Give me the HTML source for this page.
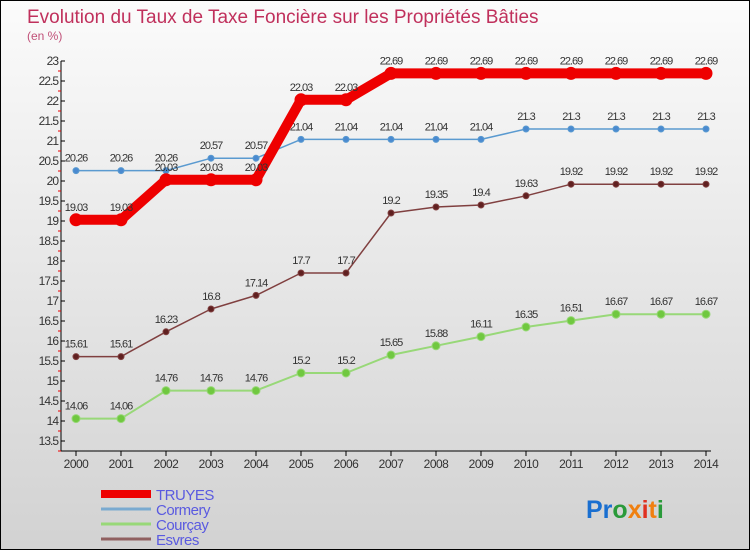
<!DOCTYPE html>
<html><head><meta charset="utf-8"><style>
body{margin:0}
#wrap{width:748px;height:548px;border:1px solid #000;background:linear-gradient(#fbfbfb,#d2d2d2);position:relative;font-family:"Liberation Sans",sans-serif;overflow:hidden}
svg{position:absolute;left:0;top:0}
</style></head><body>
<div id="wrap">
<svg id="c" width="750" height="550">
<text x="26" y="22" font-size="19" fill="#c0305c">Evolution du Taux de Taxe Foncière sur les Propriétés Bâties</text>
<text x="26" y="39" font-size="12" fill="#c05078">(en %)</text>
<g id="axes"></g><g id="series"></g><g id="legend"></g>
<text x="585" y="517" font-size="25" font-weight="bold"><tspan fill="#1a6fd0">Pr</tspan><tspan fill="#2a9a3a">o</tspan><tspan fill="#f08010">x</tspan><tspan fill="#e03020">i</tspan><tspan fill="#f08010">t</tspan><tspan fill="#2a9a3a">i</tspan></text>
</svg></div>
<script>
const years=[2000,2001,2002,2003,2004,2005,2006,2007,2008,2009,2010,2011,2012,2013,2014];
const yTicks=[13.5,14,14.5,15,15.5,16,16.5,17,17.5,18,18.5,19,19.5,20,20.5,21,21.5,22,22.5,23];
const truyes=[19.03,19.03,20.03,20.03,20.03,22.03,22.03,22.69,22.69,22.69,22.69,22.69,22.69,22.69,22.69];
const cormery=[20.26,20.26,20.26,20.57,20.57,21.04,21.04,21.04,21.04,21.04,21.3,21.3,21.3,21.3,21.3];
const courcay=[14.06,14.06,14.76,14.76,14.76,15.2,15.2,15.65,15.88,16.11,16.35,16.51,16.67,16.67,16.67];
const esvres=[15.61,15.61,16.23,16.8,17.14,17.7,17.7,19.2,19.35,19.4,19.63,19.92,19.92,19.92,19.92];
const NS='http://www.w3.org/2000/svg';
const xs=i=>75+i*45, ys=v=>440-(v-13.5)*40;
function mk(t,a,p){const e=document.createElementNS(NS,t);for(const k in a)e.setAttribute(k,a[k]);p.appendChild(e);return e;}
const ax=document.getElementById('axes');
let l=mk('line',{x1:60,y1:60,x2:60,y2:450,stroke:'#000'},ax);


l=mk('line',{x1:60,y1:450,x2:710,y2:450,stroke:'#000'},ax);


yTicks.forEach(v=>{const y=ys(v);
 mk('line',{x1:60,y1:y,x2:64,y2:y,stroke:'#000'},ax);
 mk('line',{x1:57,y1:y+10,x2:60,y2:y+10,stroke:'#e00'},ax);
 const t=mk('text',{x:57,y:y+4,'font-size':12,'text-anchor':'end',fill:'#333','letter-spacing':'-1'},ax);t.textContent=v;
 
 });
years.forEach((yr,i)=>{const x=xs(i);
 mk('line',{x1:x,y1:450,x2:x,y2:455,stroke:'#000'},ax);
 const t=mk('text',{x:x,y:467,'font-size':12,'text-anchor':'middle',fill:'#333','letter-spacing':'-0.5'},ax);t.textContent=yr;
 
 });
const sg=document.getElementById('series');
function draw(data,color,w,r,dot,name,fs){
 const g=mk('g',{},sg);
 
 
 mk('polyline',{points:data.map((v,i)=>xs(i)+','+ys(v)).join(' '),fill:'none',stroke:color,'stroke-width':w,'stroke-linejoin':'round'},g);
 data.forEach((v,i)=>{const c=mk('circle',{cx:xs(i),cy:ys(v),r:r,fill:dot,stroke:color,'stroke-width':1},g);
  
  
  const t=mk('text',{x:xs(i),y:ys(v)-9,'font-size':fs,'text-anchor':'middle',fill:'#333','letter-spacing':'-1'},g);t.textContent=v;
  
  });
}
draw(courcay,'#98d878',2,4,'#70c840','courcay',11);
draw(esvres,'#804040',1.5,3,'#602020','esvres',11);
draw(cormery,'#5a9ad0',1.5,3,'#4a8ad0','cormery',11);
draw(truyes,'#ee0000',10,6,'#ee0000','truyes',11);
const lg=document.getElementById('legend');
[['TRUYES','#ee0000',8],['Cormery','#7aaad0',3],['Courçay','#98d878',3],['Esvres','#906060',3]].forEach((d,i)=>{
 const y=493+i*15;
 const g=mk('g',{},lg);
 
 
 mk('line',{x1:100,y1:y,x2:150,y2:y,stroke:d[1],'stroke-width':d[2]},g);
 const t=mk('text',{x:155,y:y+6,'font-size':15,fill:'#5a5ae0','letter-spacing':'-0.5'},g);t.textContent=d[0];
});
</script></body></html>
